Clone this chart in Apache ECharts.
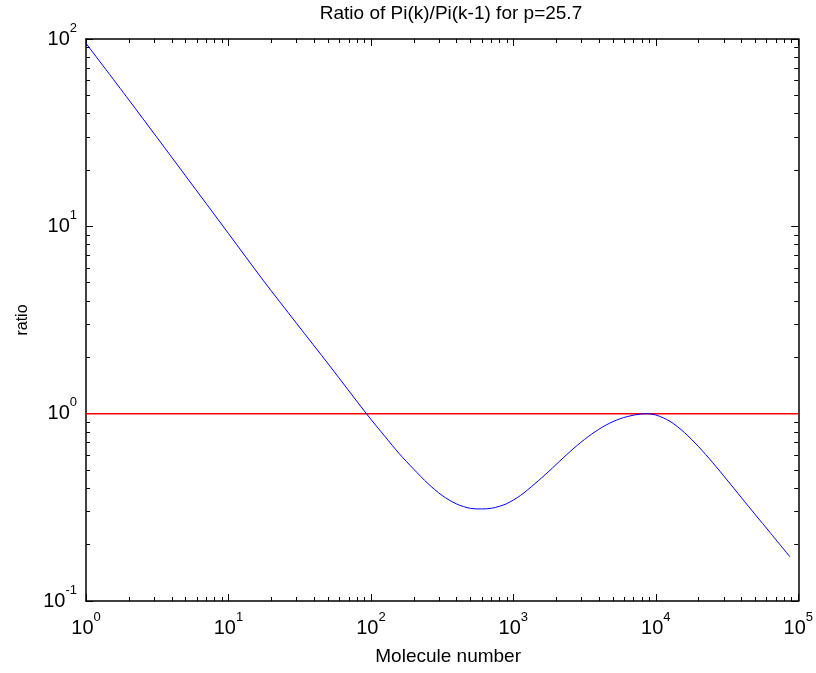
<!DOCTYPE html>
<html>
<head>
<meta charset="utf-8">
<style>
  html, body { margin: 0; padding: 0; background: #fff; }
  #chart { width: 816px; height: 673px; }
</style>
<script src="https://cdn.jsdelivr.net/npm/echarts@6/dist/echarts.min.js"></script>
</head>
<body>
<div id="chart"></div>
<script>
// Molecule number k and the ratio Pi(k)/Pi(k-1)
const kValues = [
  1, 2, 5, 10, 17.5, 30, 51.4, 93,
  126, 158, 200, 251, 316, 398, 501, 596, 708, 891,
  1122, 1413, 1778, 2239, 2818, 3548, 4467, 5623, 7079, 8551,
  10000, 12590, 15850, 19950, 25120, 31620, 39810, 50120, 63100, 87500
];
const ratioValues = [
  94.8, 47.3, 18.6, 9.16, 5.16, 3.04, 1.80, 1.0,
  0.753, 0.612, 0.505, 0.424, 0.366, 0.330, 0.312, 0.310, 0.313, 0.330,
  0.366, 0.422, 0.493, 0.581, 0.679, 0.778, 0.869, 0.940, 0.984, 1.0,
  0.984, 0.910, 0.794, 0.667, 0.547, 0.443, 0.357, 0.288, 0.233, 0.172
];

// Reference level ratio = 1
const refK = [1, 100000];
const refRatio = [1, 1];

// Axis ranges (decades)
const xRange = [1, 100000];
const yRange = [0.1, 100];

const FONT = '"Liberation Sans", Arial, Helvetica, sans-serif';

function powerLabel(v) {
  const e = Math.round(Math.log10(v));
  return '{a|10}{b|' + e + '}';
}

const labelRich = {
  a: { fontFamily: FONT, fontSize: 20, lineHeight: 35, color: '#000' },
  b: { fontFamily: FONT, fontSize: 13, lineHeight: 12, verticalAlign: 'top', color: '#000' }
};

function axisBase(extra) {
  return Object.assign({
    type: 'log',
    logBase: 10,
    axisLine: { show: true, lineStyle: { color: '#000', width: 1.5 } },
    axisTick: { show: true, inside: true, length: 7, lineStyle: { color: '#000', width: 1 } },
    minorTick: { show: true, splitNumber: 9, length: 4, lineStyle: { color: '#000', width: 1 } },
    splitLine: { show: false },
    minorSplitLine: { show: false }
  }, extra);
}

const chart = echarts.init(document.getElementById('chart'), null, { renderer: 'canvas' });

chart.setOption({
  animation: false,
  backgroundColor: '#fff',
  grid: { left: 86, right: 17, top: 39, bottom: 72, containLabel: false },
  graphic: [{
    type: 'text',
    x: 451,
    y: 14,
    style: {
      text: 'Ratio of Pi(k)/Pi(k-1) for p=25.7',
      font: '19px ' + FONT,
      fill: '#000',
      align: 'center',
      verticalAlign: 'middle'
    }
  }],
  xAxis: [
    axisBase({
      position: 'bottom',
      min: xRange[0], max: xRange[1],
      splitNumber: 5,
      name: 'Molecule number',
      nameLocation: 'middle',
      nameGap: 46,
      nameTextStyle: { fontFamily: FONT, fontSize: 19, color: '#000', padding: [0, 0, 0, 12] },
      axisLabel: { show: true, margin: 10, formatter: powerLabel, rich: labelRich }
    }),
    axisBase({
      position: 'top',
      min: xRange[0], max: xRange[1],
      splitNumber: 5,
      axisLabel: { show: false }
    })
  ],
  yAxis: [
    axisBase({
      position: 'left',
      min: yRange[0], max: yRange[1],
      splitNumber: 3,
      name: 'ratio',
      nameLocation: 'middle',
      nameGap: 55,
      nameTextStyle: { fontFamily: FONT, fontSize: 16, color: '#000' },
      axisLabel: { show: true, margin: 9, formatter: powerLabel, rich: labelRich }
    }),
    axisBase({
      position: 'right',
      min: yRange[0], max: yRange[1],
      splitNumber: 3,
      axisLabel: { show: false }
    })
  ],
  series: [
    {
      name: 'ratio',
      type: 'line',
      xAxisIndex: 0,
      yAxisIndex: 0,
      data: kValues.map((k, i) => [k, ratioValues[i]]),
      showSymbol: false,
      smooth: 0.3,
      lineStyle: { color: '#0000ff', width: 1 },
      z: 3
    },
    {
      name: 'unity',
      type: 'line',
      xAxisIndex: 0,
      yAxisIndex: 0,
      data: refK.map((k, i) => [k, refRatio[i]]),
      showSymbol: false,
      lineStyle: { color: '#ff0000', width: 1.5 },
      z: 2
    }
  ]
});
</script>
</body>
</html>
